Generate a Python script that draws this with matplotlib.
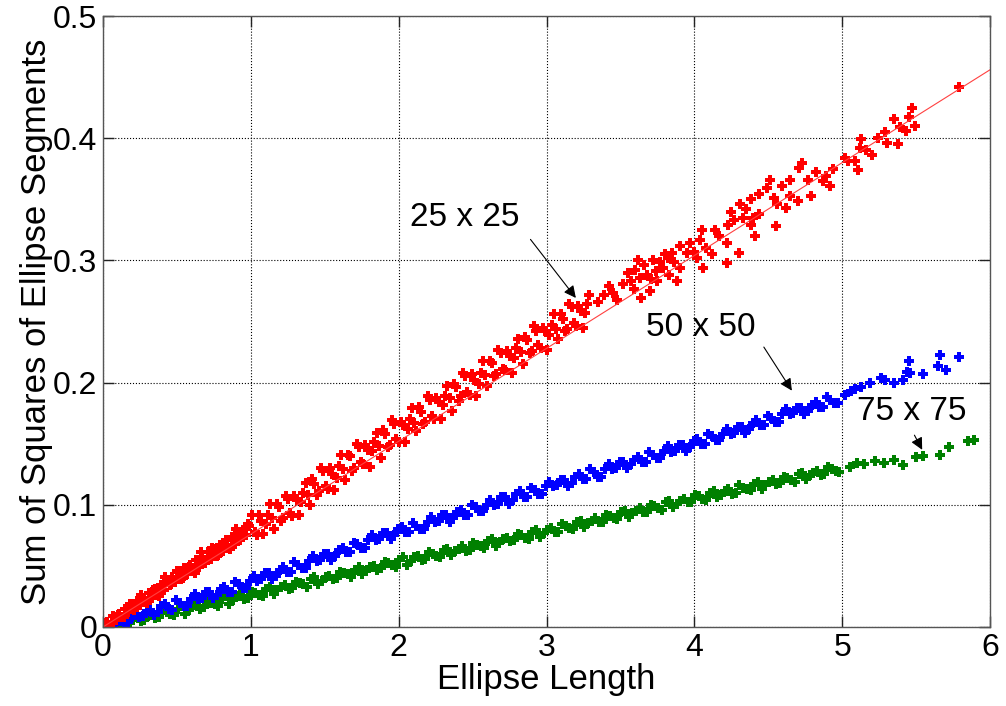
import numpy as np
import matplotlib
matplotlib.use("Agg")
from matplotlib import pyplot as plt

plt.rcParams['font.family'] = ['Liberation Sans', 'DejaVu Sans']

# 25 x 25 grid
red_x = [0.01, 0.03, 0.05, 0.07, 0.09, 0.11, 0.13, 0.15, 0.17, 0.19, 0.21, 0.23, 0.25, 0.27, 0.29,
         0.31, 0.33, 0.35, 0.37, 0.39, 0.41, 0.43, 0.45, 0.47, 0.49, 0.51, 0.53, 0.55, 0.57, 0.59,
         0.61, 0.63, 0.65, 0.67, 0.69, 0.71, 0.73, 0.75, 0.77, 0.79, 0.81, 0.83, 0.85, 0.87, 0.89,
         0.91, 0.93, 0.95, 0.97, 0.99,
         1.01, 1.04, 1.07, 1.10, 1.13, 1.16, 1.19, 1.22, 1.25, 1.28, 1.31, 1.34, 1.37, 1.40, 1.43,
         1.46, 1.49, 1.52, 1.55, 1.58, 1.61, 1.64, 1.67, 1.70, 1.73, 1.76, 1.79, 1.82, 1.85, 1.88,
         1.91, 1.94, 1.97, 2.00, 2.03, 2.06, 2.09, 2.12, 2.15, 2.18, 2.21, 2.24, 2.27, 2.30, 2.33,
         2.36, 2.39, 2.42, 2.45, 2.48, 2.51, 2.54, 2.57, 2.60, 2.63, 2.66, 2.69, 2.72, 2.75, 2.78,
         2.81, 2.84, 2.87, 2.90, 2.93, 2.96, 2.99, 3.02, 3.05, 3.08, 3.11, 3.14, 3.17, 3.20, 3.23,
         3.26, 3.29,
         3.35, 3.39, 3.42, 3.45, 3.48, 3.52, 3.55, 3.57, 3.59, 3.60, 3.62, 3.63, 3.64, 3.66, 3.68,
         3.70, 3.71, 3.72, 3.74, 3.75, 3.77, 3.79, 3.80, 3.82, 3.83, 3.85, 3.86, 3.88, 3.90, 3.90,
         3.95, 3.97, 4.00, 4.02, 4.04, 4.05, 4.06, 4.08, 4.12, 4.14, 4.17, 4.22, 4.22, 4.23, 4.25,
         4.27, 4.30, 4.31, 4.33, 4.35, 4.38, 4.38, 4.40, 4.41, 4.44, 4.44, 4.49, 4.51, 4.54, 4.55,
         4.56, 4.59, 4.62, 4.65, 4.65, 4.70, 4.71, 4.73, 4.77, 4.79, 4.82, 4.87, 4.89, 4.92, 4.94,
         5.02, 5.04, 5.09, 5.11, 5.12, 5.13, 5.16, 5.20, 5.24, 5.29, 5.30, 5.35, 5.38, 5.39, 5.43,
         5.45, 5.47, 5.49, 5.79]
red_y = [0.001, 0.004, 0.002, 0.009, 0.006, 0.011, 0.008, 0.015, 0.012, 0.017, 0.014, 0.021, 0.018, 0.024, 0.021,
         0.028, 0.024, 0.031, 0.027, 0.034, 0.030, 0.038, 0.034, 0.041, 0.037, 0.045, 0.039, 0.048, 0.043, 0.051,
         0.046, 0.055, 0.049, 0.057, 0.052, 0.061, 0.056, 0.064, 0.058, 0.067, 0.062, 0.071, 0.065, 0.074, 0.068,
         0.077, 0.071, 0.079, 0.075, 0.083,
         0.092, 0.075, 0.087, 0.084, 0.101, 0.080, 0.098, 0.089, 0.105, 0.091, 0.104, 0.102, 0.118, 0.100, 0.117,
         0.111, 0.128, 0.113, 0.125, 0.122, 0.141, 0.120, 0.140, 0.130, 0.147, 0.133, 0.145, 0.144, 0.159, 0.138,
         0.158, 0.149, 0.166, 0.151, 0.165, 0.162, 0.179, 0.160, 0.176, 0.168, 0.186, 0.170, 0.184, 0.182, 0.197,
         0.177, 0.196, 0.189, 0.205, 0.190, 0.202, 0.199, 0.218, 0.197, 0.216, 0.207, 0.224, 0.210, 0.222, 0.220,
         0.236, 0.215, 0.235, 0.226, 0.242, 0.228, 0.242, 0.239, 0.256, 0.236, 0.252, 0.244, 0.262, 0.246, 0.259,
         0.257, 0.272,
         0.266, 0.272, 0.279, 0.273, 0.268, 0.281, 0.290, 0.283, 0.277, 0.292, 0.300, 0.286, 0.269, 0.296, 0.288,
         0.275, 0.285, 0.300, 0.291, 0.283, 0.299, 0.294, 0.305, 0.302, 0.288, 0.306, 0.299, 0.283, 0.3115, 0.294,
         0.306, 0.314, 0.307, 0.302, 0.317, 0.325, 0.294, 0.310, 0.305, 0.325, 0.320, 0.314, 0.298, 0.329, 0.340,
         0.333, 0.306, 0.346, 0.335, 0.342, 0.350, 0.329, 0.335, 0.320, 0.354, 0.338, 0.359, 0.366, 0.351, 0.328,
         0.346, 0.361, 0.343, 0.366, 0.353, 0.349, 0.376, 0.380, 0.366, 0.353, 0.372, 0.365, 0.369, 0.361, 0.375,
         0.384, 0.381, 0.381, 0.374, 0.392, 0.399, 0.390, 0.386, 0.400, 0.405, 0.396, 0.416, 0.395, 0.409, 0.406,
         0.4175, 0.425, 0.410, 0.442]
# more 25 x 25 points in the dense part of the cloud
red_x2 = [0.02, 0.06, 0.10, 0.14, 0.18, 0.22, 0.26, 0.30, 0.34, 0.38, 0.42, 0.46, 0.50, 0.54, 0.58,
          0.62, 0.66, 0.70, 0.74, 0.78, 0.82, 0.86, 0.90, 0.94, 0.98,
          1.025, 1.055, 1.085, 1.115, 1.145, 1.175, 1.205, 1.235, 1.265, 1.295, 1.325, 1.355, 1.385, 1.415, 1.445,
          1.475, 1.505, 1.535, 1.565, 1.595, 1.625, 1.655, 1.685, 1.715, 1.745, 1.775, 1.805, 1.835, 1.865, 1.895,
          1.925, 1.955, 1.985, 2.015, 2.045, 2.075, 2.105, 2.135, 2.165, 2.195, 2.225, 2.255, 2.285, 2.315, 2.345,
          2.375, 2.405, 2.435, 2.465, 2.495, 2.525, 2.555, 2.585, 2.615, 2.645, 2.675, 2.705, 2.735, 2.765, 2.795,
          2.825, 2.855, 2.885, 2.915, 2.945, 2.975, 3.005, 3.035, 3.065, 3.095, 3.125, 3.155, 3.185, 3.215, 3.245,
          3.275]
red_y2 = [0.003, 0.003, 0.010, 0.008, 0.019, 0.016, 0.026, 0.020, 0.030, 0.025, 0.041, 0.035, 0.046, 0.040, 0.049,
          0.044, 0.061, 0.055, 0.065, 0.059, 0.068, 0.064, 0.080, 0.074, 0.084,
          0.078, 0.092, 0.076, 0.092, 0.089, 0.101, 0.087, 0.107, 0.093, 0.107, 0.092, 0.110, 0.108, 0.121, 0.108,
          0.130, 0.115, 0.130, 0.112, 0.132, 0.129, 0.141, 0.128, 0.150, 0.135, 0.149, 0.131, 0.151, 0.148, 0.161,
          0.147, 0.169, 0.154, 0.168, 0.151, 0.170, 0.167, 0.180, 0.166, 0.189, 0.173, 0.187, 0.170, 0.189, 0.187,
          0.199, 0.185, 0.208, 0.192, 0.207, 0.189, 0.208, 0.206, 0.218, 0.205, 0.227, 0.211, 0.226, 0.208, 0.228,
          0.225, 0.237, 0.224, 0.246, 0.231, 0.245, 0.227, 0.247, 0.244, 0.256, 0.242, 0.264, 0.249, 0.263, 0.245,
          0.264]

# fitted line for 25 x 25
fit_x = [0.0, 6.0]
fit_y = [0.0, 0.456]

# 50 x 50 grid
blue_x = [0.02, 0.07, 0.12, 0.17, 0.22, 0.27, 0.32, 0.37, 0.42, 0.47, 0.52, 0.57, 0.62, 0.67, 0.72,
          0.77, 0.82, 0.87, 0.92, 0.97, 1.02, 1.07, 1.12, 1.17, 1.22, 1.27, 1.32, 1.37, 1.42, 1.47,
          1.52, 1.57, 1.62, 1.67, 1.72, 1.77, 1.82, 1.87, 1.92, 1.97, 2.02, 2.07, 2.12, 2.17, 2.22,
          2.27, 2.32, 2.37, 2.42, 2.47, 2.52, 2.57, 2.62, 2.67, 2.72, 2.77, 2.82, 2.87, 2.92, 2.97,
          3.02, 3.07, 3.12, 3.17, 3.22, 3.27, 3.32, 3.37, 3.42, 3.47, 3.52, 3.57, 3.62, 3.67, 3.72,
          3.77, 3.82, 3.87, 3.92, 3.97, 4.02, 4.07, 4.12, 4.17, 4.22, 4.27, 4.32, 4.37, 4.42, 4.47,
          4.52, 4.57, 4.62, 4.67, 4.72, 4.77, 4.82, 4.87, 4.92, 4.97,
          5.02, 5.06, 5.09, 5.13, 5.19, 5.26, 5.29, 5.35, 5.41, 5.44, 5.45, 5.46, 5.55, 5.65, 5.66,
          5.70, 5.79]
blue_y = [0.001, 0.002, 0.005, 0.004, 0.010, 0.009, 0.014, 0.012, 0.019, 0.014, 0.020, 0.017, 0.027, 0.024, 0.029,
          0.026, 0.033, 0.029, 0.035, 0.032, 0.042, 0.039, 0.044, 0.042, 0.049, 0.045, 0.051, 0.048, 0.058, 0.055,
          0.060, 0.058, 0.065, 0.061, 0.068, 0.065, 0.075, 0.072, 0.077, 0.075, 0.082, 0.078, 0.083, 0.080, 0.090,
          0.087, 0.092, 0.089, 0.096, 0.092, 0.098, 0.095, 0.104, 0.101, 0.106, 0.104, 0.111, 0.106, 0.112, 0.109,
          0.119, 0.116, 0.120, 0.118, 0.125, 0.121, 0.127, 0.123, 0.133, 0.130, 0.135, 0.133, 0.139, 0.135, 0.141,
          0.138, 0.148, 0.144, 0.149, 0.147, 0.154, 0.150, 0.156, 0.153, 0.162, 0.159, 0.164, 0.162, 0.169, 0.165,
          0.171, 0.168, 0.178, 0.175, 0.179, 0.177, 0.184, 0.180, 0.186, 0.183,
          0.190, 0.193, 0.195, 0.196, 0.200, 0.204, 0.202, 0.200, 0.202, 0.209, 0.218, 0.208, 0.207, 0.214, 0.2225,
          0.210, 0.221]
blue_x2 = [0.045, 0.095, 0.145, 0.195, 0.245, 0.295, 0.345, 0.395, 0.445, 0.495, 0.545, 0.595, 0.645, 0.695, 0.745,
           0.795, 0.845, 0.895, 0.945, 0.995, 1.045, 1.095, 1.145, 1.195, 1.245, 1.295, 1.345, 1.395, 1.445, 1.495,
           1.545, 1.595, 1.645, 1.695, 1.745, 1.795, 1.845, 1.895, 1.945, 1.995, 2.045, 2.095, 2.145, 2.195, 2.245,
           2.295, 2.345, 2.395, 2.445, 2.495, 2.545, 2.595, 2.645, 2.695, 2.745, 2.795, 2.845, 2.895, 2.945, 2.995,
           3.045, 3.095, 3.145, 3.195, 3.245, 3.295, 3.345, 3.395, 3.445, 3.495, 3.545, 3.595, 3.645, 3.695, 3.745,
           3.795, 3.845, 3.895, 3.945, 3.995, 4.045, 4.095, 4.145, 4.195, 4.245, 4.295, 4.345, 4.395, 4.445, 4.495,
           4.545, 4.595, 4.645, 4.695, 4.745, 4.795, 4.845, 4.895, 4.945]
blue_y2 = [0.001, 0.005, 0.004, 0.008, 0.008, 0.013, 0.010, 0.017, 0.015, 0.022, 0.017, 0.023, 0.023, 0.029, 0.024,
           0.031, 0.029, 0.037, 0.032, 0.038, 0.038, 0.044, 0.039, 0.047, 0.045, 0.053, 0.048, 0.054, 0.054, 0.060,
           0.055, 0.063, 0.061, 0.069, 0.065, 0.071, 0.071, 0.077, 0.072, 0.080, 0.078, 0.085, 0.080, 0.086, 0.086,
           0.092, 0.086, 0.094, 0.092, 0.100, 0.095, 0.100, 0.100, 0.106, 0.101, 0.109, 0.106, 0.114, 0.109, 0.115,
           0.115, 0.120, 0.115, 0.123, 0.121, 0.129, 0.123, 0.129, 0.129, 0.135, 0.130, 0.137, 0.135, 0.143, 0.138,
           0.144, 0.143, 0.149, 0.144, 0.152, 0.150, 0.158, 0.153, 0.158, 0.158, 0.164, 0.159, 0.167, 0.165, 0.173,
           0.168, 0.174, 0.174, 0.179, 0.174, 0.182, 0.180, 0.188, 0.183]

# 75 x 75 grid
green_x = [0.03, 0.08, 0.13, 0.18, 0.23, 0.28, 0.33, 0.38, 0.43, 0.48, 0.53, 0.58, 0.63, 0.68, 0.73,
           0.78, 0.83, 0.88, 0.93, 0.98, 1.03, 1.08, 1.13, 1.18, 1.23, 1.28, 1.33, 1.38, 1.43, 1.48,
           1.53, 1.58, 1.63, 1.68, 1.73, 1.78, 1.83, 1.88, 1.93, 1.98, 2.03, 2.08, 2.13, 2.18, 2.23,
           2.28, 2.33, 2.38, 2.43, 2.48, 2.53, 2.58, 2.63, 2.68, 2.73, 2.78, 2.83, 2.88, 2.93, 2.98,
           3.03, 3.08, 3.13, 3.18, 3.23, 3.28, 3.33, 3.38, 3.43, 3.48, 3.53, 3.58, 3.63, 3.68, 3.73,
           3.78, 3.83, 3.88, 3.93, 3.98, 4.03, 4.08, 4.13, 4.18, 4.23, 4.28, 4.33, 4.38, 4.43, 4.48,
           4.53, 4.58, 4.63, 4.68, 4.73, 4.78, 4.83, 4.88, 4.93, 4.98,
           5.05, 5.10, 5.15, 5.22, 5.28, 5.35, 5.41, 5.50, 5.55, 5.66, 5.72, 5.85, 5.89]
green_y = [0.001, 0.001, 0.004, 0.003, 0.008, 0.006, 0.011, 0.008, 0.012, 0.010, 0.017, 0.014, 0.018, 0.016, 0.020,
           0.017, 0.025, 0.022, 0.026, 0.024, 0.028, 0.025, 0.033, 0.030, 0.034, 0.032, 0.036, 0.033, 0.041, 0.038,
           0.042, 0.040, 0.044, 0.041, 0.049, 0.046, 0.050, 0.048, 0.052, 0.049, 0.057, 0.054, 0.058, 0.056, 0.060,
           0.057, 0.064, 0.062, 0.066, 0.063, 0.067, 0.065, 0.072, 0.069, 0.073, 0.071, 0.075, 0.072, 0.079, 0.077,
           0.081, 0.078, 0.083, 0.080, 0.087, 0.085, 0.089, 0.086, 0.091, 0.088, 0.095, 0.093, 0.097, 0.094, 0.099,
           0.096, 0.103, 0.101, 0.105, 0.102, 0.107, 0.104, 0.111, 0.108, 0.113, 0.110, 0.114, 0.112, 0.119, 0.116,
           0.120, 0.118, 0.122, 0.119, 0.126, 0.124, 0.128, 0.125, 0.129, 0.127,
           0.131, 0.134, 0.133, 0.136, 0.134, 0.137, 0.1326, 0.139, 0.140, 0.141, 0.147, 0.152, 0.153]
green_x2 = [0.055, 0.105, 0.155, 0.205, 0.255, 0.305, 0.355, 0.405, 0.455, 0.505, 0.555, 0.605, 0.655, 0.705, 0.755,
            0.805, 0.855, 0.905, 0.955, 1.005, 1.055, 1.105, 1.155, 1.205, 1.255, 1.305, 1.355, 1.405, 1.455, 1.505,
            1.555, 1.605, 1.655, 1.705, 1.755, 1.805, 1.855, 1.905, 1.955, 2.005, 2.055, 2.105, 2.155, 2.205, 2.255,
            2.305, 2.355, 2.405, 2.455, 2.505, 2.555, 2.605, 2.655, 2.705, 2.755, 2.805, 2.855, 2.905, 2.955, 3.005,
            3.055, 3.105, 3.155, 3.205, 3.255, 3.305, 3.355, 3.405, 3.455, 3.505, 3.555, 3.605, 3.655, 3.705, 3.755,
            3.805, 3.855, 3.905, 3.955, 4.005, 4.055, 4.105, 4.155, 4.205, 4.255, 4.305, 4.355, 4.405, 4.455, 4.505,
            4.555, 4.605, 4.655, 4.705, 4.755, 4.805, 4.855, 4.905, 4.955]
green_y2 = [0.001, 0.004, 0.004, 0.006, 0.005, 0.009, 0.007, 0.014, 0.011, 0.015, 0.011, 0.017, 0.015, 0.021, 0.019,
            0.023, 0.019, 0.025, 0.023, 0.029, 0.026, 0.031, 0.027, 0.033, 0.031, 0.037, 0.035, 0.039, 0.035, 0.041,
            0.039, 0.045, 0.043, 0.047, 0.043, 0.049, 0.047, 0.053, 0.051, 0.055, 0.051, 0.057, 0.055, 0.061, 0.058,
            0.063, 0.059, 0.064, 0.062, 0.069, 0.066, 0.070, 0.066, 0.072, 0.070, 0.076, 0.073, 0.078, 0.074, 0.079,
            0.078, 0.084, 0.081, 0.086, 0.082, 0.087, 0.086, 0.092, 0.089, 0.094, 0.090, 0.095, 0.094, 0.100, 0.097,
            0.102, 0.098, 0.103, 0.102, 0.108, 0.105, 0.110, 0.106, 0.111, 0.109, 0.116, 0.113, 0.117, 0.113, 0.119,
            0.117, 0.123, 0.120, 0.125, 0.121, 0.126, 0.124, 0.131, 0.128]

x_ticks = [0, 1, 2, 3, 4, 5, 6]
y_ticks = [0, 0.1, 0.2, 0.3, 0.4, 0.5]
y_tick_labels = ['0', '0.1', '0.2', '0.3', '0.4', '0.5']

fig = plt.figure(figsize=(10.06, 7.06), dpi=100)
ax = fig.add_axes([0.1024, 0.1119, 0.8817, 0.8654])

green = (0, 0.5, 0)
blue = (0, 0, 1)
red = (1, 0, 0)
for xs, ys, c in [(green_x + green_x2, green_y + green_y2, green),
                  (blue_x + blue_x2, blue_y + blue_y2, blue),
                  (red_x + red_x2, red_y + red_y2, red)]:
    ax.plot(xs, ys, 'P', ms=6.5, mew=0, color=c, linestyle='none')
ax.plot(fit_x, fit_y, '-', lw=0.8, color=(1, 0.25, 0.25))

# annotations
arr = dict(arrowstyle='-|>', color='black', lw=0.8, mutation_scale=18)
ax.annotate('', xy=(3.21, 0.2675), xytext=(2.88, 0.319), arrowprops=arr)
ax.text(2.45, 0.335, '25 x 25', fontsize=24, ha='center', va='center')
ax.annotate('', xy=(4.67, 0.1915), xytext=(4.46, 0.231), arrowprops=arr)
ax.text(4.04, 0.2455, '50 x 50', fontsize=24, ha='center', va='center')
ax.annotate('', xy=(5.55, 0.143), xytext=(5.48, 0.159), arrowprops=arr)
ax.text(5.47, 0.176, '75 x 75', fontsize=24, ha='center', va='center')

ax.set_xlim(0, 6)
ax.set_ylim(0, 0.5)
ax.set_xticks(x_ticks)
ax.set_xticklabels([str(t) for t in x_ticks])
ax.set_yticks(y_ticks)
ax.set_yticklabels(y_tick_labels)
ax.tick_params(direction='in', length=8, width=1, labelsize=23,
               top=True, right=True, color='#222222', pad=4)
ax.grid(True, linestyle=':', color='black', lw=0.8)
for s in ax.spines.values():
    s.set_color('#555555')
    s.set_linewidth(1)

ax.set_xlabel('Ellipse Length', fontsize=25, labelpad=0)
ax.set_ylabel('Sum of Squares of Ellipse Segments', fontsize=25, labelpad=0)

fig.savefig('out.png', dpi=100)
